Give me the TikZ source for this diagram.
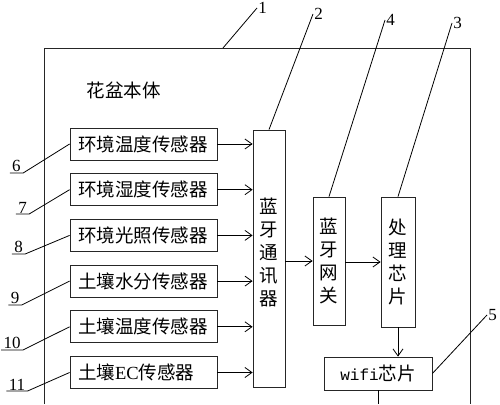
\documentclass[tikz,border=0pt]{standalone}
\usepackage{fontspec}
\setmainfont{Liberation Serif}
\newfontfamily\cjk{Noto Sans CJK SC}
\newfontfamily\mono{Liberation Mono}
\usetikzlibrary{arrows.meta}
\tikzstyle{block} = [draw=black!85, fill=white, rectangle, inner sep=0pt, align=center]
\tikzstyle{sensor} = [block, minimum height=32pt, text width=131pt, inner xsep=8pt, align=left]
\tikzstyle{num} = [inner sep=1pt, font={\fontsize{17pt}{17pt}\selectfont}]

\begin{document}
\begin{tikzpicture}[x=1pt, y=1pt, node distance=45.7pt, line width=0.8pt, >={Straight Barb[length=7pt,width=10pt]}]
    \tikzset{font={\cjk\fontsize{18.5pt}{23pt}\selectfont}}
    \useasboundingbox (0,0) rectangle (500,404);
    % Flowerpot body
    \draw [black!85] (44,0) -- (44,356) -- (470,356) -- (470,0);
    \coordinate (f1) at (223,356);
    \node at (123.5,314) (title) {花盆本体};

    \node [sensor] at (143.5,260) (s1) {环境温度传感器};
    \node [sensor, below of=s1] (s2) {环境湿度传感器};
    \node [sensor, below of=s2] (s3) {环境光照传感器};
    \node [sensor, below of=s3] (s4) {土壤水分传感器};
    \node [sensor, below of=s4] (s5) {土壤温度传感器};
    \node [sensor, below of=s5] (s6) {土壤\textrm{EC}传感器};

    \node [block, minimum width=32pt, minimum height=257pt, text depth=14pt] at (269,145.5) (comm) {蓝\\牙\\通\\讯\\器};
    \node [block, minimum width=32pt, minimum height=128pt] at (329,143) (gw) {蓝\\牙\\网\\关};
    \node [block, minimum width=34pt, minimum height=130pt] at (398,142) (chip) {处\\理\\芯\\片};
    \node [block, minimum width=108pt, minimum height=33pt] at (378,30.5) (wifi) {{\mono\fontsize{16pt}{16pt}\selectfont wifi}芯片};
    \coordinate (out) at (wifi.south |- 0,0);

    \foreach \i in {1,...,6}
        \draw [->] (s\i.east) -- (s\i.east -| comm.west);
    \draw [->] (comm.east |- gw.west) -- (gw.west);
    \draw [->] (gw.east |- chip.west) -- (chip.west);
    \draw [->] (chip.south) -- (chip.south |- wifi.north);
    \draw (wifi.south) -- (out);

    % Reference numerals
    \node [num, anchor=west] at (257,396) (l1) {1};
    \node [num, anchor=west] at (313,390) (l2) {2};
    \node [num, anchor=west] at (452,381) (l3) {3};
    \node [num, anchor=west] at (385,384) (l4) {4};
    \node [num, anchor=west] at (487,89) (l5) {5};
    \draw (f1) -- (l1.west);
    \draw (comm.north) -- (l2.west);
    \draw (chip.north) -- (l3.west);
    \draw (gw.north) -- (l4.west);
    \draw (wifi.east) -- (l5.west);

    \node [num, inner xsep=2pt, inner ysep=0.5pt, anchor=south] at (16.5,231) (l6) {6};
    \node [num, inner xsep=2pt, inner ysep=0.5pt, anchor=south] at (22.5,190) (l7) {7};
    \node [num, inner xsep=2pt, inner ysep=0.5pt, anchor=south] at (18.5,150) (l8) {8};
    \node [num, inner xsep=2pt, inner ysep=0.5pt, anchor=south] at (15,99) (l9) {9};
    \node [num, inner xsep=2pt, inner ysep=0.5pt, anchor=south] at (12,54) (l10) {10};
    \node [num, inner xsep=2pt, inner ysep=0.5pt, anchor=south] at (17,13) (l11) {11};
    \foreach \i/\j in {1/6,2/7,3/8,4/9,5/10,6/11}
        \draw (s\i.west) -- (l\j.south east) -- (l\j.south west);
\end{tikzpicture}
\end{document}
